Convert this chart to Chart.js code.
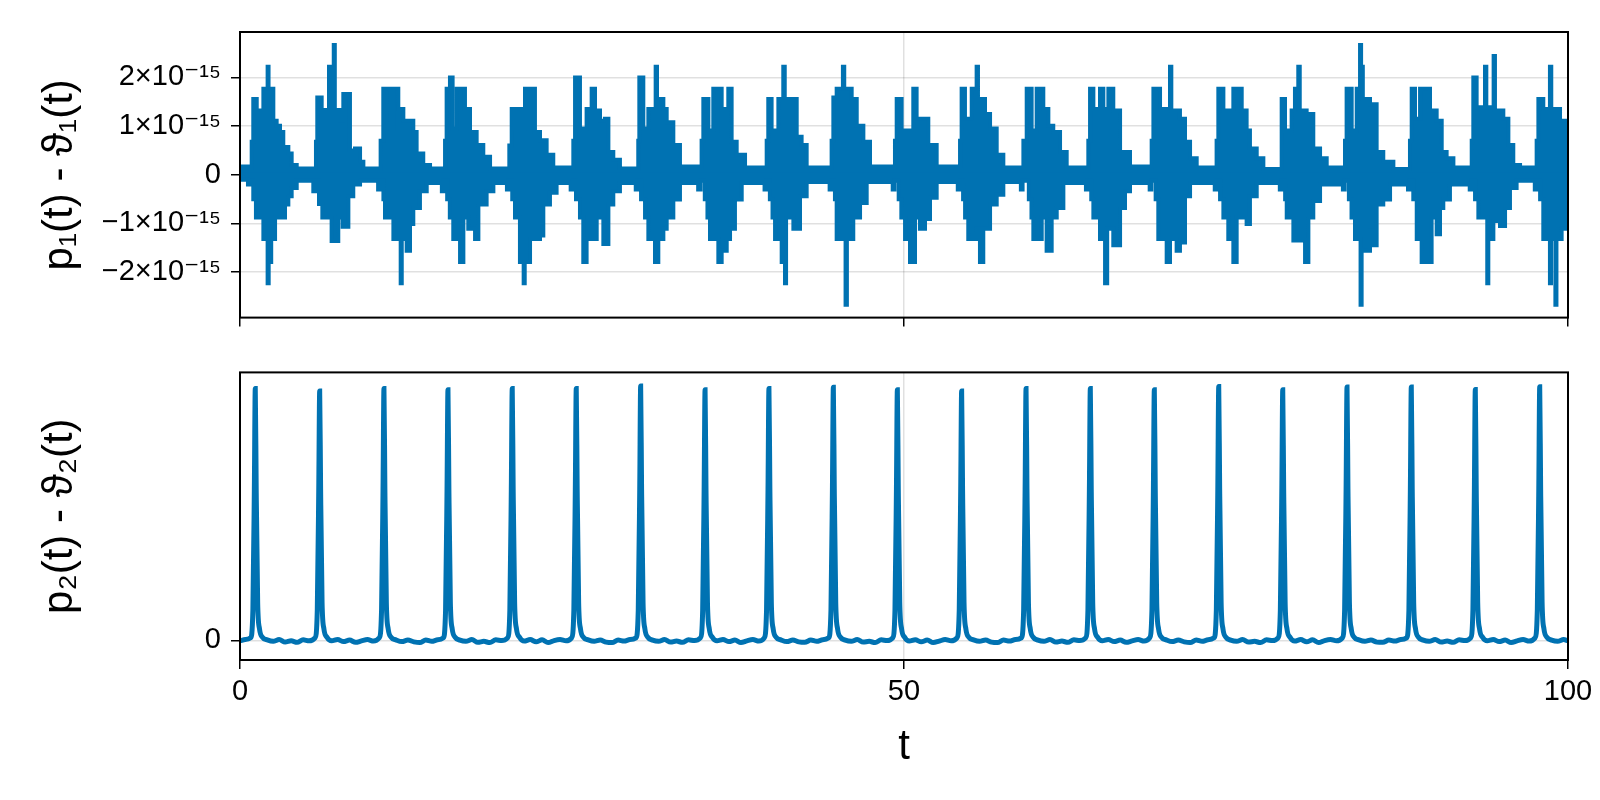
<!DOCTYPE html>
<html>
<head>
<meta charset="utf-8">
<script src="https://cdn.jsdelivr.net/npm/chart.js@4.4.1/dist/chart.umd.min.js"></script>
<style>
  html, body { margin: 0; padding: 0; background: #fff; }
  #wrap { position: relative; width: 1600px; height: 800px; }
  #wrap canvas { position: absolute; left: 0; }
</style>
</head>
<body>
<div id="wrap">
  <canvas id="chartTop" width="1600" height="345" style="top:0"></canvas>
  <canvas id="chartBottom" width="1600" height="455" style="top:345px"></canvas>
</div>
<script>
// t ticks shared by both panels
const tTicks = [0, 50, 100];
// top panel ticks, in units of 1e-15
const p1Ticks = [-2, -1, 0, 1, 2];
const p2Ticks = [0];

// p1 - theta1 : upper edge of the oscillation band, [t, value in 1e-15]
const p1Upper = [
  [0,0.17],[0.75,0.13],
  [0.88,0.68],[1.0,1.56],[1.26,1.32],[1.76,1.77],[2.08,2.22],[2.15,1.77],[2.51,1.11],[2.76,1.01],[3.01,0.88],[3.26,0.57],[3.64,0.44],[3.89,0.2],[4.27,0.13],
  [5.72,0.68],[5.82,1.59],[6.15,1.33],[6.7,2.22],[6.78,1.33],[7.06,2.67],[7.14,1.33],[7.53,1.11],[7.78,1.66],[8.28,0.5],[8.66,0.54],[9.04,0.27],[9.29,0.13],
  [10.59,0.7],[10.79,1.77],[11.3,0.95],[11.55,1.77],[11.92,1.35],[12.3,1.11],[13.05,0.88],[13.3,0.44],[13.8,0.2],[14.31,0.13],
  [15.44,0.7],[15.56,1.77],[15.81,2.0],[16.01,0.95],[16.32,1.77],[16.94,1.35],[17.32,0.88],[17.82,0.61],[18.32,0.37],[18.83,0.13],
  [20.28,0.6],[20.46,1.35],[20.71,0.95],[20.96,1.35],[21.21,0.95],[21.46,1.77],[22.21,0.88],[22.59,0.71],[23.09,0.41],[23.59,0.15],
  [25.1,0.7],[25.23,2.0],[25.6,0.95],[26.1,1.35],[26.48,1.77],[26.73,1.32],[27.11,1.11],[27.48,1.15],[27.74,0.47],[28.11,0.31],[28.61,0.13],
  [29.99,0.7],[30.07,2.0],[30.37,0.95],[30.75,1.35],[31.3,2.22],[31.4,1.56],[31.88,1.35],[32.13,1.08],[32.63,0.61],[33.13,0.17],
  [34.76,0.7],[34.89,1.56],[35.27,0.91],[35.64,1.77],[36.27,0.91],[36.52,1.35],[36.77,1.77],[37.02,0.68],[37.4,0.41],[38.03,0.15],
  [39.66,0.7],[39.78,1.56],[40.03,0.91],[40.54,1.56],[40.91,2.22],[41.02,1.56],[41.92,0.78],[42.29,0.61],[42.67,0.15],
  [44.55,0.7],[44.68,1.59],[44.93,1.77],[45.4,2.22],[45.5,1.77],[46.06,1.56],[46.44,1.01],[46.94,0.68],[47.44,0.17],
  [49.32,0.7],[49.45,1.56],[49.82,0.91],[50.7,1.77],[50.95,1.15],[51.83,0.61],[52.46,0.17],
  [54.22,0.7],[54.34,1.77],[54.59,1.15],[55.1,1.77],[55.47,2.22],[55.57,1.56],[56.1,1.25],[56.48,0.95],[56.98,0.41],[57.48,0.15],
  [58.99,0.7],[59.24,1.77],[59.61,0.91],[59.99,1.77],[60.49,1.35],[60.87,1.01],[61.24,0.88],[61.75,0.47],[62.25,0.15],
  [63.88,0.7],[64.01,1.77],[64.26,1.35],[64.76,1.77],[65.01,1.35],[65.39,1.77],[65.76,1.32],[66.27,0.47],[67.02,0.17],
  [68.65,0.7],[68.78,1.77],[69.28,1.35],[70.03,2.22],[70.13,1.32],[70.78,1.15],[71.16,0.68],[71.54,0.34],[72.04,0.15],
  [73.54,0.7],[73.67,1.77],[74.05,1.32],[74.8,1.77],[75.43,1.32],[75.8,0.91],[76.05,0.54],[76.56,0.34],[77.06,0.12],
  [78.44,1.56],[78.69,0.91],[79.19,1.32],[79.44,1.77],[79.69,2.22],[79.8,1.32],[80.32,1.25],[80.82,0.54],[81.33,0.34],[81.83,0.15],
  [83.21,0.7],[83.33,1.77],[83.71,0.91],[84.09,1.77],[84.34,2.67],[84.42,2.22],[84.55,1.56],[85.09,1.45],[85.59,0.47],[86.09,0.27],[86.85,0.12],
  [88.1,0.7],[88.23,1.77],[88.48,1.15],[88.86,1.77],[89.61,1.32],[90.11,1.11],[90.49,0.47],[90.86,0.34],[91.37,0.15],
  [92.75,0.7],[92.87,2.0],[93.12,1.39],[93.75,2.22],[93.85,1.39],[94.4,2.44],[94.5,1.32],[95.13,1.15],[95.51,0.61],[95.88,0.2],[96.39,0.15],
  [97.64,0.7],[97.77,1.56],[98.14,1.35],[98.64,2.22],[98.74,1.35],[99.4,1.11],[100,1.11]
];

// lower edge of the same band
const p1Lower = [
  [0,-0.1],[0.6,-0.2],[0.88,-0.12],
  [1.0,-0.5],[1.2,-0.88],[1.76,-1.32],[2.08,-2.23],[2.16,-1.79],[2.35,-1.32],[2.64,-0.88],[3.39,-0.61],[3.64,-0.44],[3.89,-0.27],[4.27,-0.12],[5.52,-0.34],[5.65,-0.12],
  [5.95,-0.6],[6.2,-0.88],[6.9,-1.36],[7.4,-0.88],[7.73,-1.07],[8.16,-0.44],[8.53,-0.2],[9.04,-0.12],[10.4,-0.3],[10.52,-0.12],
  [10.8,-0.5],[10.92,-0.88],[11.55,-1.32],[12.1,-2.23],[12.18,-1.32],[12.55,-1.56],[12.8,-1.01],[13.05,-0.68],[13.55,-0.34],[14.06,-0.17],[15.2,-0.34],[15.33,-0.12],
  [15.6,-0.5],[15.8,-0.88],[16.06,-1.32],[16.57,-1.79],[16.82,-0.88],[17.19,-1.11],[17.7,-1.32],[17.95,-0.61],[18.57,-0.34],[19.08,-0.17],[20.1,-0.3],[20.22,-0.12],
  [20.5,-0.5],[20.71,-0.88],[21.08,-1.79],[21.36,-2.23],[21.44,-1.79],[21.84,-1.32],[22.59,-1.25],[22.84,-0.61],[23.34,-0.37],[23.84,-0.17],[24.9,-0.3],[25.03,-0.12],
  [25.3,-0.5],[25.6,-0.88],[25.85,-1.79],[26.1,-1.32],[26.86,-0.88],[27.36,-1.42],[27.74,-0.61],[28.11,-0.34],[28.61,-0.17],[29.8,-0.3],[29.93,-0.12],
  [30.2,-0.5],[30.5,-0.88],[30.75,-1.32],[31.25,-1.79],[31.5,-1.32],[31.88,-1.11],[32.13,-0.88],[32.63,-0.51],[33.13,-0.17],[34.5,-0.3],[34.68,-0.12],
  [35.0,-0.5],[35.2,-0.88],[35.39,-1.32],[36.02,-1.79],[36.27,-1.56],[36.65,-1.32],[36.9,-1.11],[37.27,-0.51],[37.78,-0.17],[39.5,-0.3],[39.63,-0.12],
  [39.9,-0.5],[40.1,-0.88],[40.29,-1.32],[40.79,-1.79],[41.04,-2.23],[41.12,-0.88],[41.67,-1.11],[42.17,-0.44],[42.67,-0.15],[44.4,-0.3],[44.52,-0.12],
  [44.8,-0.5],[44.93,-1.32],[45.6,-2.67],[45.7,-1.32],[46.18,-0.88],[46.69,-0.58],[47.19,-0.15],[49.15,-0.3],[49.28,-0.12],
  [49.6,-0.5],[49.8,-0.88],[50.08,-1.32],[50.45,-1.79],[50.83,-0.88],[51.2,-1.11],[51.58,-0.91],[51.96,-0.47],[52.46,-0.15],[54.05,-0.3],[54.18,-0.12],
  [54.45,-0.5],[54.6,-0.88],[54.84,-1.32],[55.47,-1.11],[55.72,-1.79],[55.97,-1.11],[56.48,-0.61],[56.98,-0.41],[57.48,-0.15],[58.8,-0.3],[58.93,-0.12],
  [59.4,-0.5],[59.6,-0.88],[59.74,-1.32],[60.37,-0.88],[60.74,-1.56],[61.12,-0.88],[61.5,-0.68],[62.0,-0.17],[63.7,-0.3],[63.83,-0.12],
  [64.1,-0.5],[64.26,-0.88],[64.76,-1.32],[65.14,-2.23],[65.3,-1.11],[65.76,-1.45],[66.27,-0.68],[66.64,-0.34],[67.02,-0.17],[68.5,-0.3],[68.62,-0.12],
  [68.95,-0.5],[69.15,-1.32],[69.78,-1.79],[70.03,-1.32],[70.53,-1.56],[70.78,-1.39],[71.16,-0.44],[71.54,-0.17],[73.4,-0.3],[73.52,-0.12],
  [73.8,-0.5],[74.05,-0.88],[74.42,-1.32],[74.8,-1.79],[75.05,-0.88],[75.8,-1.01],[76.05,-0.44],[76.56,-0.17],[78.3,-0.3],[78.42,-0.12],
  [78.7,-0.5],[78.82,-0.88],[79.32,-1.35],[80.2,-1.79],[80.45,-0.88],[80.82,-0.54],[81.33,-0.2],[83.05,-0.3],[83.18,-0.12],
  [83.5,-0.5],[83.7,-0.88],[83.96,-1.32],[84.38,-2.67],[84.46,-1.56],[85.09,-1.15],[85.34,-1.45],[85.59,-0.61],[86.09,-0.51],[86.6,-0.2],[87.95,-0.3],[88.07,-0.12],
  [88.35,-0.5],[88.61,-1.32],[88.98,-1.79],[89.73,-0.88],[90.11,-1.22],[90.36,-0.68],[90.61,-0.51],[91.11,-0.2],[92.6,-0.3],[92.72,-0.12],
  [93.0,-0.5],[93.25,-0.88],[93.92,-2.23],[94.0,-1.32],[94.38,-0.95],[94.88,-1.05],[95.26,-0.68],[95.63,-0.27],[96.13,-0.12],[97.5,-0.3],[97.62,-0.12],
  [97.9,-0.5],[98.14,-1.32],[98.64,-2.23],[98.72,-1.32],[99.05,-2.67],[99.13,-1.32],[99.52,-1.11],[100,-1.11]
];

// p2 - theta2 : [t, value], peak height ~1
const p2Trace = [
  [0,-0.002],[0.4,0.003],
  [0.8,0.01],[0.97,0.12],[1.08,0.6],[1.15,1.0],[1.22,0.6],[1.33,0.15],[1.47,0.045],[1.7,0.012],[2.05,0.002],[2.5,-0.004],[2.95,0.003],[3.4,-0.007],[3.85,-0.002],[4.3,-0.008],[4.75,0.002],[5.2,-0.002],
  [5.65,0.01],[5.82,0.12],[5.93,0.6],[6.0,0.99],[6.07,0.6],[6.18,0.15],[6.32,0.045],[6.55,0.012],[6.9,-0.002],[7.35,0.003],[7.8,-0.005],[8.25,0.001],[8.7,-0.008],[9.15,-0.002],[9.6,0.003],[10.05,-0.003],
  [10.49,0.01],[10.66,0.12],[10.77,0.6],[10.84,1.0],[10.91,0.6],[11.02,0.15],[11.16,0.045],[11.39,0.012],[11.74,0.002],[12.19,-0.005],[12.64,0.001],[13.09,-0.006],[13.54,-0.009],[13.99,0.001],[14.44,-0.004],[14.89,0.002],
  [15.31,0.01],[15.48,0.12],[15.59,0.6],[15.66,0.995],[15.73,0.6],[15.84,0.15],[15.98,0.045],[16.21,0.012],[16.56,0.001],[17.01,-0.004],[17.46,0.003],[17.91,-0.008],[18.36,-0.004],[18.81,-0.009],[19.26,0.002],[19.71,-0.001],
  [20.15,0.01],[20.32,0.12],[20.43,0.6],[20.5,1.0],[20.57,0.6],[20.68,0.15],[20.82,0.045],[21.05,0.012],[21.4,-0.003],[21.85,0.003],[22.3,-0.006],[22.75,0.002],[23.2,-0.009],[23.65,-0.001],[24.1,0.003],[24.55,-0.002],
  [24.97,0.01],[25.14,0.12],[25.25,0.6],[25.32,1.0],[25.39,0.6],[25.5,0.15],[25.64,0.045],[25.87,0.012],[26.22,0.002],[26.67,-0.004],[27.12,0.001],[27.57,-0.007],[28.02,-0.009],[28.47,0.001],[28.92,-0.003],[29.37,0.003],
  [29.82,0.01],[29.99,0.12],[30.1,0.6],[30.17,1.01],[30.24,0.6],[30.35,0.15],[30.49,0.045],[30.72,0.012],[31.07,0.001],[31.52,-0.004],[31.97,0.003],[32.42,-0.007],[32.87,-0.003],[33.32,-0.008],[33.77,0.002],[34.22,-0.001],
  [34.67,0.01],[34.84,0.12],[34.95,0.6],[35.02,0.995],[35.09,0.6],[35.2,0.15],[35.34,0.045],[35.57,0.012],[35.92,-0.002],[36.37,0.003],[36.82,-0.005],[37.27,0.001],[37.72,-0.009],[38.17,-0.002],[38.62,0.003],[39.07,-0.003],
  [39.48,0.01],[39.65,0.12],[39.76,0.6],[39.83,1.0],[39.9,0.6],[40.01,0.15],[40.15,0.045],[40.38,0.012],[40.73,0.002],[41.18,-0.005],[41.63,0.001],[42.08,-0.006],[42.53,-0.008],[42.98,0.001],[43.43,-0.004],[43.88,0.002],
  [44.33,0.01],[44.5,0.12],[44.61,0.6],[44.68,1.005],[44.75,0.6],[44.86,0.15],[45.0,0.045],[45.23,0.012],[45.58,0.001],[46.03,-0.004],[46.48,0.003],[46.93,-0.007],[47.38,-0.004],[47.83,-0.009],[48.28,0.002],[48.73,-0.001],
  [49.15,0.01],[49.32,0.12],[49.43,0.6],[49.5,0.995],[49.57,0.6],[49.68,0.15],[49.82,0.045],[50.05,0.012],[50.4,-0.003],[50.85,0.002],[51.3,-0.006],[51.75,0.001],[52.2,-0.009],[52.65,-0.003],[53.1,0.003],[53.55,-0.002],
  [53.99,0.01],[54.16,0.12],[54.27,0.6],[54.34,0.99],[54.41,0.6],[54.52,0.15],[54.66,0.045],[54.89,0.012],[55.24,0.002],[55.69,-0.004],[56.14,0.001],[56.59,-0.007],[57.04,-0.009],[57.49,0.001],[57.94,-0.003],[58.39,0.003],
  [58.84,0.01],[59.01,0.12],[59.12,0.6],[59.19,1.0],[59.26,0.6],[59.37,0.15],[59.51,0.045],[59.74,0.012],[60.09,0.001],[60.54,-0.004],[60.99,0.003],[61.44,-0.007],[61.89,-0.003],[62.34,-0.008],[62.79,0.002],[63.24,-0.001],
  [63.68,0.01],[63.85,0.12],[63.96,0.6],[64.03,1.0],[64.1,0.6],[64.21,0.15],[64.35,0.045],[64.58,0.012],[64.93,-0.002],[65.38,0.003],[65.83,-0.005],[66.28,0.001],[66.73,-0.008],[67.18,-0.002],[67.63,0.003],[68.08,-0.003],
  [68.5,0.01],[68.67,0.12],[68.78,0.6],[68.85,0.995],[68.92,0.6],[69.03,0.15],[69.17,0.045],[69.4,0.012],[69.75,0.002],[70.2,-0.005],[70.65,0.001],[71.1,-0.006],[71.55,-0.009],[72.0,0.001],[72.45,-0.004],[72.9,0.002],
  [73.35,0.01],[73.52,0.12],[73.63,0.6],[73.7,1.008],[73.77,0.6],[73.88,0.15],[74.02,0.045],[74.25,0.012],[74.6,0.001],[75.05,-0.004],[75.5,0.003],[75.95,-0.007],[76.4,-0.004],[76.85,-0.009],[77.3,0.002],[77.75,-0.001],
  [78.17,0.01],[78.34,0.12],[78.45,0.6],[78.52,0.995],[78.59,0.6],[78.7,0.15],[78.84,0.045],[79.07,0.012],[79.42,-0.003],[79.87,0.003],[80.32,-0.006],[80.77,0.002],[81.22,-0.009],[81.67,-0.001],[82.12,0.003],[82.57,-0.002],
  [83.01,0.01],[83.18,0.12],[83.29,0.6],[83.36,1.006],[83.43,0.6],[83.54,0.15],[83.68,0.045],[83.91,0.012],[84.26,0.002],[84.71,-0.004],[85.16,0.001],[85.61,-0.007],[86.06,-0.008],[86.51,0.001],[86.96,-0.003],[87.41,0.003],
  [87.85,0.01],[88.02,0.12],[88.13,0.6],[88.2,1.006],[88.27,0.6],[88.38,0.15],[88.52,0.045],[88.75,0.012],[89.1,0.001],[89.55,-0.004],[90.0,0.003],[90.45,-0.007],[90.9,-0.003],[91.35,-0.008],[91.8,0.002],[92.25,-0.001],
  [92.67,0.01],[92.84,0.12],[92.95,0.6],[93.02,0.996],[93.09,0.6],[93.2,0.15],[93.34,0.045],[93.57,0.012],[93.92,-0.002],[94.37,0.003],[94.82,-0.005],[95.27,0.001],[95.72,-0.009],[96.17,-0.002],[96.62,0.003],[97.07,-0.003],
  [97.52,0.01],[97.69,0.12],[97.8,0.6],[97.87,1.007],[97.94,0.6],[98.05,0.15],[98.19,0.045],[98.42,0.012],[98.77,0.001],[99.22,-0.004],[99.67,0.003],[100,-0.002]
];

const blue = '#0072b2';
const gridGray = 'rgba(0,0,0,0.12)';
const fontFamily = '"Liberation Sans", "DejaVu Sans", sans-serif';
const tickFont = { family: fontFamily, size: 29 };
const labelFont = { family: fontFamily, size: 42 };

// spines on all four sides, like the original
const frame = {
  id: 'frame',
  afterDraw(chart) {
    const { ctx, chartArea: a } = chart;
    ctx.save();
    ctx.strokeStyle = '#000';
    ctx.lineWidth = 2;
    ctx.strokeRect(a.left, a.top, a.right - a.left, a.bottom - a.top);
    ctx.restore();
  }
};

// fills each stepped edge across the zero line, using the points the line controller placed
const bandFill = {
  id: 'bandFill',
  beforeDatasetsDraw(chart) {
    const { ctx, chartArea: a, scales } = chart;
    const zero = scales.y.getPixelForValue(0);
    ctx.save();
    ctx.beginPath();
    ctx.rect(a.left, a.top, a.right - a.left, a.bottom - a.top);
    ctx.clip();
    ctx.fillStyle = blue;
    chart.data.datasets.forEach((ds, i) => {
      const pts = chart.getDatasetMeta(i).data;
      if (!pts.length) return;
      // overlap the two halves a little so no seam shows at zero
      const base = zero + (i === 0 ? 2 : -2);
      ctx.beginPath();
      ctx.moveTo(pts[0].x, base);
      ctx.lineTo(pts[0].x, pts[0].y);
      for (let k = 1; k < pts.length; k++) {
        ctx.lineTo(pts[k].x, pts[k - 1].y);
        ctx.lineTo(pts[k].x, pts[k].y);
      }
      ctx.lineTo(pts[pts.length - 1].x, base);
      ctx.closePath();
      ctx.fill();
    });
    ctx.restore();
  }
};

const gridOpts = { color: gridGray, lineWidth: 1.5, tickColor: '#000', tickLength: 9, tickWidth: 1.5 };

const fmtE15 = (v) => {
  if (v === 0) return '0';
  return (v < 0 ? '\u2212' : '') + Math.abs(v) + '\u00d710\u207b\u00b9\u2075';
};

const toXY = (arr) => arr.map(([x, y]) => ({ x, y }));

const bandSet = (arr) => ({
  data: toXY(arr),
  stepped: 'before',
  fill: false,
  borderColor: blue,
  backgroundColor: blue,
  borderWidth: 4,
  pointRadius: 0
});

new Chart(document.getElementById('chartTop'), {
  type: 'line',
  data: { datasets: [bandSet(p1Upper), bandSet(p1Lower)] },
  options: {
    responsive: false,
    animation: false,
    layout: { padding: { top: 32, right: 32, left: 0, bottom: 0 } },
    plugins: { legend: { display: false }, tooltip: { enabled: false } },
    scales: {
      x: {
        type: 'linear', min: 0, max: 100,
        afterBuildTicks: (s) => { s.ticks = tTicks.map(v => ({ value: v })); },
        afterFit: (s) => { s.height = 23; },
        grid: gridOpts,
        border: { display: false },
        ticks: { display: false }
      },
      y: {
        min: -2.935, max: 2.935,
        afterBuildTicks: (s) => { s.ticks = p1Ticks.map(v => ({ value: v })); },
        afterFit: (s) => { s.width = 240; },
        grid: gridOpts,
        border: { display: false },
        ticks: { font: tickFont, color: '#000', padding: 10, callback: fmtE15 },
        title: { display: true, text: 'p\u2081(t) - \u03d1\u2081(t)', font: labelFont, color: '#000', padding: { top: 35 } }
      }
    }
  },
  plugins: [bandFill, frame]
});

new Chart(document.getElementById('chartBottom'), {
  type: 'line',
  data: {
    datasets: [{
      data: toXY(p2Trace),
      borderColor: blue,
      borderWidth: 5,
      pointRadius: 0,
      cubicInterpolationMode: 'monotone',
      fill: false
    }]
  },
  options: {
    responsive: false,
    animation: false,
    layout: { padding: { top: 23, right: 32, left: 0, bottom: 0 } },
    plugins: { legend: { display: false }, tooltip: { enabled: false } },
    scales: {
      x: {
        type: 'linear', min: 0, max: 100,
        afterBuildTicks: (s) => { s.ticks = tTicks.map(v => ({ value: v })); },
        afterFit: (s) => { s.height = 140; },
        grid: gridOpts,
        border: { display: false },
        ticks: { font: tickFont, color: '#000', padding: 6, maxRotation: 0 },
        title: { display: true, text: 't', font: labelFont, color: '#000', padding: { top: 0, bottom: 27 } }
      },
      y: {
        min: -0.078, max: 1.064,
        afterBuildTicks: (s) => { s.ticks = p2Ticks.map(v => ({ value: v })); },
        afterFit: (s) => { s.width = 240; },
        grid: gridOpts,
        border: { display: false },
        ticks: { font: tickFont, color: '#000', padding: 10 },
        title: { display: true, text: 'p\u2082(t) - \u03d1\u2082(t)', font: labelFont, color: '#000', padding: { top: 35 } }
      }
    }
  },
  plugins: [frame]
});
</script>
</body>
</html>
